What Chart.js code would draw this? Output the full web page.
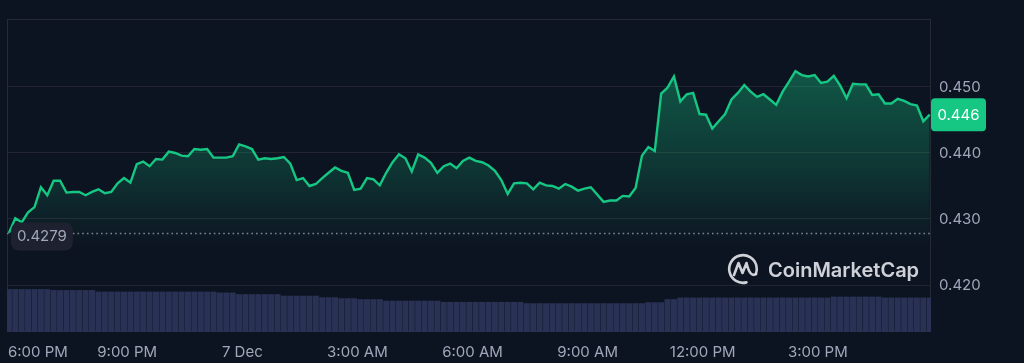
<!DOCTYPE html>
<html>
<head>
<meta charset="utf-8">
<script src="https://cdn.jsdelivr.net/npm/chart.js@4.4.1/dist/chart.umd.min.js"></script>
<style>
    html, body { margin: 0; padding: 0; background: #0d1421; }
    canvas { display: block; }
</style>
</head>
<body>
<canvas id="priceChart" width="1024" height="363"></canvas>
<script>
// Prix toutes les 10 minutes
const prices = [
    0.4279, 0.4301, 0.4295, 0.4310, 0.4318, 0.4348, 0.4336, 0.4358, 0.4358, 0.4340,
    0.4341, 0.4341, 0.4336, 0.4341, 0.4345, 0.4339, 0.4341, 0.4354, 0.4362, 0.4355,
    0.4383, 0.4387, 0.4380, 0.4391, 0.4390, 0.4402, 0.4400, 0.4396, 0.4395, 0.4406,
    0.4405, 0.4406, 0.4393, 0.4393, 0.4393, 0.4395, 0.4413, 0.4410, 0.4406, 0.4390,
    0.4392, 0.4391, 0.4392, 0.4394, 0.4384, 0.4359, 0.4362, 0.4350, 0.4353, 0.4362,
    0.4370, 0.4378, 0.4373, 0.4370, 0.4344, 0.4346, 0.4362, 0.4360, 0.4351, 0.4370,
    0.4386, 0.4398, 0.4392, 0.4372, 0.4398, 0.4393, 0.4385, 0.4370, 0.4380, 0.4384,
    0.4377, 0.4388, 0.4393, 0.4388, 0.4386, 0.4381, 0.4373, 0.4359, 0.4338, 0.4354,
    0.4355, 0.4354, 0.4345, 0.4355, 0.4351, 0.4350, 0.4346, 0.4353, 0.4349, 0.4343,
    0.4346, 0.4348, 0.4337, 0.4326, 0.4328, 0.4328, 0.4335, 0.4334, 0.4347, 0.4396,
    0.4409, 0.4403, 0.4490, 0.4499, 0.4516, 0.4478, 0.4489, 0.4491, 0.4459, 0.4458,
    0.4437, 0.4448, 0.4459, 0.4481, 0.4491, 0.4503, 0.4493, 0.4485, 0.4489, 0.4481,
    0.4473, 0.4493, 0.4508, 0.4524, 0.4518, 0.4516, 0.4518, 0.4506, 0.4508, 0.4517,
    0.4502, 0.4483, 0.4505, 0.4504, 0.4504, 0.4488, 0.4489, 0.4475, 0.4475, 0.4482,
    0.4479, 0.4474, 0.4472, 0.4448, 0.4458
];

// Volume (unités relatives), même pas de temps
const volumes = [
    137, 137, 137, 137, 137, 137, 137, 134, 134, 134,
    134, 134, 134, 134, 129, 129, 129, 129, 129, 129,
    129, 129, 129, 129, 129, 129, 129, 129, 129, 129,
    129, 129, 129, 126, 126, 126, 121, 121, 121, 121,
    121, 121, 121, 116, 116, 116, 116, 116, 116, 111,
    111, 111, 108, 108, 108, 105, 105, 105, 105, 100,
    100, 100, 100, 100, 100, 100, 100, 100, 96, 96,
    96, 96, 96, 96, 96, 96, 96, 96, 96, 96,
    96, 92, 92, 92, 92, 92, 92, 92, 92, 92,
    92, 92, 92, 92, 92, 92, 92, 92, 92, 92,
    95, 95, 95, 105, 105, 110, 110, 110, 110, 110,
    110, 110, 110, 110, 110, 110, 110, 110, 110, 110,
    110, 110, 110, 110, 110, 110, 110, 110, 110, 113,
    113, 113, 113, 113, 113, 113, 113, 110, 110, 110,
    110, 110, 110, 110, 110
];

// Minutes après 18:00 (un point toutes les 10 minutes)
const times = prices.map((p, i) => -5 + i * 10);

const timeTicks = [0, 180, 360, 540, 720, 900, 1080, 1260];
const timeLabels = ['6:00 PM', '9:00 PM', '7 Dec', '3:00 AM', '6:00 AM', '9:00 AM', '12:00 PM', '3:00 PM'];
const priceTicks = [0.420, 0.430, 0.440, 0.450];

const GREEN = '#16c784';
const GRID = '#222531';
const LABEL = '#a1a7bb';
const FONT = 'Inter, "Noto Sans", sans-serif';

function roundRect(ctx, x, y, w, h, r) {
    ctx.beginPath();
    ctx.moveTo(x + r, y);
    ctx.arcTo(x + w, y, x + w, y + h, r);
    ctx.arcTo(x + w, y + h, x, y + h, r);
    ctx.arcTo(x, y + h, x, y, r);
    ctx.arcTo(x, y, x + w, y, r);
    ctx.closePath();
}

// Cadre, ligne du prix d'ouverture, étiquettes et filigrane
const decorations = {
    id: 'decorations',
    beforeDatasetsDraw(chart) {
        const { ctx, chartArea } = chart;
        ctx.save();
        ctx.strokeStyle = '#262a37';
        ctx.lineWidth = 1;
        ctx.strokeRect(chartArea.left + 0.5, chartArea.top + 0.5,
            chartArea.right - chartArea.left - 1, chartArea.bottom - chartArea.top - 1);
        ctx.restore();
    },
    afterDatasetsDraw(chart) {
        const { ctx, chartArea, scales } = chart;
        const x = scales.x, y = scales.y;
        ctx.save();

        // ligne pointillée du prix de départ
        const openPrice = prices[0];
        const oy = Math.round(y.getPixelForValue(openPrice)) + 0.5;
        ctx.strokeStyle = '#80869a';
        ctx.lineWidth = 1.5;
        ctx.setLineDash([1.6, 3.1]);
        ctx.beginPath();
        ctx.moveTo(chartArea.left, oy);
        ctx.lineTo(chartArea.right, oy);
        ctx.stroke();
        ctx.setLineDash([]);

        // badge du prix de départ
        ctx.font = '15px ' + FONT;
        const openText = openPrice.toFixed(4);
        const ow = ctx.measureText(openText).width + 12;
        ctx.fillStyle = '#1e2230';
        roundRect(ctx, chartArea.left + 4, oy - 11, ow, 28, 8);
        ctx.fill();
        ctx.fillStyle = LABEL;
        ctx.textBaseline = 'middle';
        ctx.textAlign = 'left';
        ctx.fillText(openText, chartArea.left + 10, oy + 3);

        // badge du dernier prix
        const last = prices[prices.length - 1];
        const ly = y.getPixelForValue(last);
        ctx.fillStyle = GREEN;
        roundRect(ctx, chartArea.right, ly - 16.5, 55, 33, 4);
        ctx.fill();
        ctx.fillStyle = '#ffffff';
        ctx.textAlign = 'center';
        ctx.fillText(last.toFixed(3), chartArea.right + 27.5, ly + 0.5);

        // étiquettes de l'axe du temps
        ctx.fillStyle = LABEL;
        ctx.textAlign = 'left';
        timeTicks.forEach(function(t, i) {
            const w = ctx.measureText(timeLabels[i]).width;
            let lx = x.getPixelForValue(t) - w / 2;
            if (lx < chartArea.left + 1) lx = chartArea.left + 1;
            ctx.fillText(timeLabels[i], lx, chartArea.bottom + 20);
        });

        // filigrane CoinMarketCap
        const cx = chartArea.right - 188, cy = chartArea.bottom - 63;
        ctx.strokeStyle = 'rgba(228,230,236,0.9)';
        ctx.lineWidth = 2.6;
        ctx.lineCap = 'round';
        ctx.lineJoin = 'round';
        ctx.beginPath();
        ctx.arc(cx, cy, 13.8, Math.PI * 0.42, Math.PI * 2.12);
        ctx.stroke();
        ctx.beginPath();
        ctx.moveTo(cx - 9, cy + 6);
        ctx.lineTo(cx - 4.5, cy - 6);
        ctx.lineTo(cx - 0.5, cy + 4);
        ctx.lineTo(cx + 3.5, cy - 6);
        ctx.quadraticCurveTo(cx + 7, cy + 9, cx + 13, cy + 5);
        ctx.stroke();
        ctx.fillStyle = 'rgba(228,230,236,0.9)';
        ctx.font = '600 20px ' + FONT;
        ctx.textBaseline = 'alphabetic';
        ctx.textAlign = 'left';
        ctx.fillText('CoinMarketCap', cx + 25, cy + 8);

        ctx.restore();
    }
};

const ctx = document.getElementById('priceChart').getContext('2d');

new Chart(ctx, {
    type: 'line',
    data: {
        datasets: [{
            type: 'line',
            data: times.map((t, i) => ({ x: t, y: prices[i] })),
            yAxisID: 'y',
            borderColor: GREEN,
            borderWidth: 2.4,
            pointRadius: 0,
            tension: 0,
            fill: 'start',
            backgroundColor: function(context) {
                const chart = context.chart;
                if (!chart.chartArea) return 'rgba(22,199,132,0.2)';
                const y = chart.scales.y;
                const top = y.getPixelForValue(0.4525);
                const bottom = y.getPixelForValue(0.4255);
                const g = chart.ctx.createLinearGradient(0, top, 0, bottom);
                g.addColorStop(0, 'rgba(22,199,132,0.38)');
                g.addColorStop(0.55, 'rgba(22,199,132,0.19)');
                g.addColorStop(1, 'rgba(22,199,132,0)');
                return g;
            },
            order: 1
        }, {
            type: 'bar',
            data: times.map((t, i) => ({ x: t, y: volumes[i] })),
            yAxisID: 'vol',
            backgroundColor: '#293154',
            barPercentage: 0.94,
            categoryPercentage: 1,
            order: 2
        }]
    },
    options: {
        responsive: false,
        animation: false,
        layout: { padding: { left: 7, top: 19, bottom: 31, right: 0 } },
        plugins: {
            legend: { display: false },
            tooltip: { enabled: false }
        },
        scales: {
            x: {
                type: 'linear',
                min: -8,
                max: 1437,
                offset: false,
                display: false
            },
            y: {
                position: 'right',
                min: 0.41288,
                max: 0.4603,
                afterBuildTicks: function(axis) {
                    axis.ticks = priceTicks.map(v => ({ value: v }));
                },
                afterFit: function(axis) {
                    axis.width = 93;
                },
                grid: { color: GRID, drawTicks: false },
                border: { display: false },
                ticks: {
                    padding: 8,
                    color: LABEL,
                    font: { family: FONT, size: 15 },
                    callback: v => v.toFixed(3)
                }
            },
            vol: {
                display: false,
                min: 0,
                max: 1000
            }
        }
    },
    plugins: [decorations]
});
</script>
</body>
</html>
